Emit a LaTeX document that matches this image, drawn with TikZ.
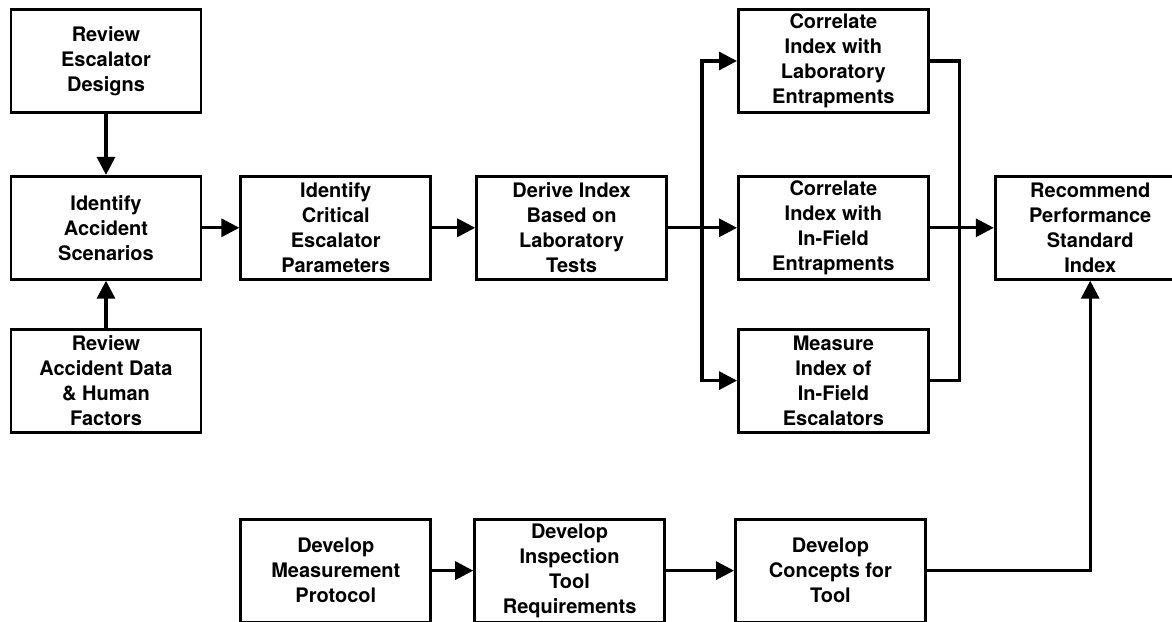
\documentclass[tikz,border=0pt]{standalone}
\usepackage{fontspec}
\setmainfont{TeX Gyre Heros}
\usetikzlibrary{positioning}
\usetikzlibrary{arrows.meta}

\begin{document}
\begin{tikzpicture}[
        box/.style={
            rectangle,
            draw,
            line width=1.4pt,
            minimum width=95pt,
            minimum height=51.5pt,
            inner sep=0pt,
            align=center,
            font=\fontsize{10}{12.5}\selectfont\bfseries
        },
        arrow/.style={-{Triangle[length=9pt,width=9pt]}, line width=1.6pt},
        link/.style={line width=1.6pt}
    ]
    \useasboundingbox (0,0) rectangle (586pt,-310.5pt);

    \node[box] (red) at (53pt,-30.5pt) {Review\\Escalator\\Designs};
    \node[box, below=30.5pt of red] (ias) {Identify\\Accident\\Scenarios};
    \node[box, below=23.5pt of ias] (rad) {Review\\Accident Data\\\& Human\\Factors};
    \node[box, right=18.5pt of ias] (icp) {Identify\\Critical\\Escalator\\Parameters};
    \node[box, right=21.5pt of icp] (dib) {Derive Index\\Based on\\Laboratory\\Tests};
    \node[box, right=34.5pt of dib] (cif) {Correlate\\Index with\\In-Field\\Entrapments};
    \node[box, above=30.5pt of cif] (cil) {Correlate\\Index with\\Laboratory\\Entrapments};
    \node[box, below=23.5pt of cif] (mif) {Measure\\Index of\\In-Field\\Escalators};
    \node[box, right=32pt of cif] (rps) {Recommend\\Performance\\Standard\\Index};
    \node[box, below=118.5pt of icp] (dmp) {Develop\\Measurement\\Protocol};
    \node[box, right=20.5pt of dmp] (dit) {Develop\\Inspection\\Tool\\Requirements};
    \node[box, right=34pt of dit] (dct) {Develop\\Concepts for\\Tool};

    \coordinate[right=17pt of dib.east] (split);
    \coordinate[right=15pt of cif.east] (merge);

    \draw[arrow] (red) -- (ias);
    \draw[arrow] (rad) -- (ias);
    \draw[arrow] (ias) -- (icp);
    \draw[arrow] (icp) -- (dib);
    \draw[arrow] (dib) -- (cif);
    \draw[arrow] (split) |- (cil);
    \draw[arrow] (split) |- (mif);
    \draw[link] (cil.east) -| (merge) |- (mif.east);
    \draw[arrow] (cif) -- (rps);
    \draw[arrow] (dmp) -- (dit);
    \draw[arrow] (dit) -- (dct);
    \draw[arrow] (dct) -| (rps);

\end{tikzpicture}
\end{document}
